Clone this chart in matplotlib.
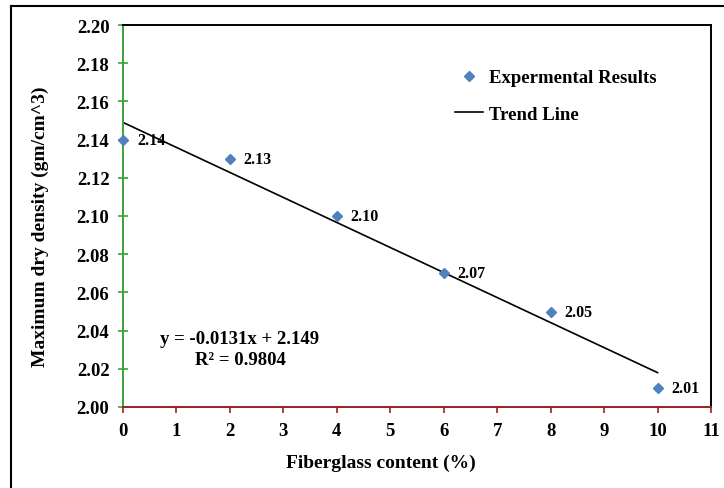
import numpy as np
import matplotlib.pyplot as plt
from matplotlib.lines import Line2D

# data
fiber = [0, 2, 4, 6, 8, 10]
density = [2.14, 2.13, 2.10, 2.07, 2.05, 2.01]
slope, intercept = -0.0131, 2.149
x_ticks = list(range(0, 12))
y_ticks = [2.00, 2.02, 2.04, 2.06, 2.08, 2.10, 2.12, 2.14, 2.16, 2.18, 2.20]

plt.rcParams['font.family'] = ['Liberation Serif', 'DejaVu Serif']
plt.rcParams['font.weight'] = 'bold'

W, H = 724, 489
fig = plt.figure(figsize=(W/100, H/100), dpi=100)
ax = fig.add_axes([123/W, 1-408/H, (711-123)/W, (408-26)/H])

blue = '#4f81bd'
ax.plot(fiber, density, 'D', color=blue, markersize=5.5, zorder=3, clip_on=False)
xt = np.array([fiber[0], fiber[-1]])
ax.plot(xt, slope*xt + intercept, color='black', lw=1.2)

for x, y in zip(fiber, density):
    ax.annotate(f'{y:.2f}', (x, y), xytext=(10, 0), textcoords='offset points',
                va='center', ha='left', fontsize=11.5, fontweight='bold')

ax.text(0.199, 0.152, 'y = -0.0131x + 2.149\nR\u00b2 = 0.9804', transform=ax.transAxes,
        ha='center', va='center', fontsize=13.5, fontweight='bold', linespacing=1.32)

ax.set_xlim(0, 11)
ax.set_ylim(2.00, 2.20)
ax.set_xticks(x_ticks)
ax.set_yticks(y_ticks)
ax.set_yticklabels([f'{v:.2f}' for v in y_ticks])
ax.tick_params(axis='y', direction='inout', length=7.5, width=1.2, color='#3aa335',
               labelsize=13.5, pad=6)
ax.tick_params(axis='x', direction='out', length=4.5, width=1.2, color='#a01f1f',
               labelsize=13.5, pad=6)
ax.spines['left'].set_color('#3aa335')
ax.spines['bottom'].set_color('#a01f1f')
for s in ax.spines.values():
    s.set_linewidth(1.4)

ax.set_xlabel('Fiberglass content (%)', fontsize=14, fontweight='bold')
ax.xaxis.set_label_coords(0.439, -0.144)
ax.xaxis.label.set_va('center')
ax.set_ylabel('Maximum dry density (gm/cm^3)', fontsize=14, fontweight='bold')
ax.yaxis.set_label_coords(-0.141, 0.475)
ax.yaxis.label.set_va('center')

handles = [Line2D([], [], marker='D', color=blue, ls='none', markersize=5.5),
           Line2D([], [], color='black', lw=1.2)]
ax.legend(handles, ['Expermental Results', 'Trend Line'], loc='upper left',
          bbox_to_anchor=(455/W, 1-70/H), bbox_transform=fig.transFigure,
          frameon=False, fontsize=13.5, borderpad=0, borderaxespad=0,
          handlelength=1.5, labelspacing=1.05, handletextpad=0.3)

# outer frame (top and left edges)
fig.add_artist(Line2D([11/W, 1], [1-7/H, 1-7/H], color='black', lw=1.5))
fig.add_artist(Line2D([11/W, 11/W], [0, 1-7/H], color='black', lw=1.5))

fig.savefig('out.png', dpi=100)
